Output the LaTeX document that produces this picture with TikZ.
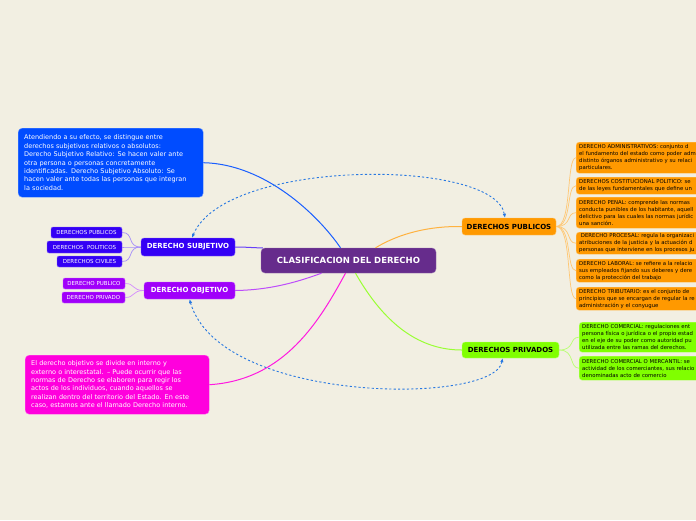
\documentclass[tikz,border=0pt]{standalone}
\usepackage{fontspec}
\setmainfont{DejaVu Sans}
\usetikzlibrary{arrows.meta}
\definecolor{bgc}{RGB}{242,239,226}
\definecolor{cpurple}{RGB}{102,44,140}
\definecolor{cblue}{RGB}{0,76,255}
\definecolor{csubj}{RGB}{52,0,245}
\definecolor{cobj}{RGB}{160,0,250}
\definecolor{cpink}{RGB}{255,0,221}
\definecolor{corange}{RGB}{255,153,0}
\definecolor{cgreen}{RGB}{128,255,0}
\definecolor{cdash}{RGB}{40,120,225}
\tikzset{
  hub/.style={fill=cpurple, draw=cpurple!70!white, rounded corners=4pt, minimum width=175pt, minimum height=25pt, inner sep=0pt, text=white, font=\fontsize{8.5}{10}\selectfont\bfseries},
  mainbox/.style={rounded corners=3pt, inner sep=0pt, font=\fontsize{7}{8}\selectfont\bfseries},
  smallbox/.style={rounded corners=2pt, inner sep=0pt, text=white, font=\fontsize{5.5}{6}\selectfont},
  notebox/.style={anchor=north west, rounded corners=4pt, inner xsep=6pt, inner ysep=0pt, align=left, text=white, font=\fontsize{6.5}{8.4}\selectfont},
  leafbox/.style={anchor=north west, rounded corners=3pt, inner xsep=3pt, inner ysep=0pt, align=left, text=black, minimum width=170pt, text width=164pt, font=\fontsize{5.35}{7}\selectfont},
  oleaf/.style={leafbox, fill=corange, draw=corange!60!white},
  gleaf/.style={leafbox, fill=cgreen, draw=cgreen!50!white},
  conn/.style={line width=1pt},
  twig/.style={line width=0.7pt},
  dasharrow/.style={cdash, line width=0.9pt, dash pattern=on 2.2pt off 2.2pt, {Latex[length=4pt,width=3.5pt]}-{Latex[length=4pt,width=3.5pt]}}
}
\begin{document}
\begin{tikzpicture}[x=1pt,y=-1pt]
\fill[bgc] (0,0) rectangle (696,520);
\useasboundingbox (0,0) rectangle (696,520);
\clip (0,0) rectangle (696,520);

% central
\node[hub] (c) at (348.5,260.5) {CLASIFICACION DEL DERECHO};

% left notes
\node[notebox, fill=cblue, draw=cblue!60!white, minimum width=185pt, text width=173pt, minimum height=69pt] (nb) at (18,128)
{Atendiendo a su efecto, se distingue entre\\
derechos subjetivos relativos o absolutos:\\
Derecho Subjetivo Relativo: Se hacen valer ante\\
otra persona o personas concretamente\\
identificadas. Derecho Subjetivo Absoluto: Se\\
hacen valer ante todas las personas que integran\\
la sociedad.};

\node[notebox, fill=cpink, draw=cpink!60!white, minimum width=184pt, text width=172pt, minimum height=59pt] (np) at (25,355)
{El derecho objetivo se divide en interno y\\
externo o interestatal. -- Puede ocurrir que las\\
normas de Derecho se elaboren para regir los\\
actos de los individuos, cuando aquellos se\\
realizan dentro del territorio del Estado. En este\\
caso, estamos ante el llamado Derecho interno.};

% subjetivo / objetivo
\node[mainbox, fill=csubj, draw=csubj!60!white, text=white, minimum width=94pt, minimum height=18pt] (subj) at (188,247) {DERECHO SUBJETIVO};
\node[mainbox, fill=cobj, draw=cobj!60!white, text=white, minimum width=91pt, minimum height=17pt] (obj) at (189.5,290.5) {DERECHO OBJETIVO};

\node[smallbox, fill=csubj, draw=csubj!60!white, minimum width=71pt, minimum height=11pt] (s1) at (86.5,232.5) {DERECHOS PUBLICOS};
\node[smallbox, fill=csubj, draw=csubj!60!white, minimum width=75pt, minimum height=12pt] (s2) at (84.5,247) {DERECHOS\ \ POLITICOS};
\node[smallbox, fill=csubj, draw=csubj!60!white, minimum width=65pt, minimum height=11pt] (s3) at (89.5,261.5) {DERECHOS CIVILES};

\node[smallbox, fill=cobj, draw=cobj!60!white, minimum width=62pt, minimum height=11pt] (o1) at (94,283.5) {DERECHO PUBLICO};
\node[smallbox, fill=cobj, draw=cobj!60!white, minimum width=63pt, minimum height=11pt] (o2) at (93.5,297.5) {DERECHO PRIVADO};

% right main
\node[mainbox, fill=corange, draw=corange!60!white, text=black, minimum width=94pt, minimum height=17pt] (dp) at (509,226.5) {DERECHOS PUBLICOS};
\node[mainbox, fill=cgreen, draw=cgreen!50!white, text=black, minimum width=97pt, minimum height=16pt] (dv) at (510.5,350) {DERECHOS PRIVADOS};

% orange leaves
\node[oleaf, minimum height=31pt] (p1) at (576,142)
{DERECHO ADMINISTRATIVOS: conjunto d\\
el fundamento del estado como poder adm\\
distinto órganos administrativo y su relaci\\
particulares.};
\node[oleaf, minimum height=17pt] (p2) at (576,177)
{DERECHOS COSTITUCIONAL POLITICO: se\\
de las leyes fundamentales que define un};
\node[oleaf, minimum height=31pt] (p3) at (576,197)
{DERECHO PENAL: comprende las normas\\
conducta punibles de los habitante, aquell\\
delictivo para las cuales las normas jurídic\\
una sanción.};
\node[oleaf, minimum height=22pt] (p4) at (576,232)
{\ DERECHO PROCESAL: regula la organizaci\\
atribuciones de la justicia y la actuación d\\
personas que interviene en los procesos ju};
\node[oleaf, minimum height=23pt] (p5) at (576,259)
{DERECHO LABORAL: se refiere a la relacio\\
sus empleados fijando sus deberes y dere\\
como la protección del trabajo};
\node[oleaf, minimum height=23pt] (p6) at (576,287)
{DERECHO TRIBUTARIO: es el conjunto de\\
principios que se encargan de regular la re\\
administración y el conyugue};

% green leaves
\node[gleaf, minimum height=30pt] (g1) at (579,322)
{DERECHO COMERCIAL: regulaciones ent\\
persona física o jurídica o el propio estad\\
en el eje de su poder como autoridad pu\\
utilizada entre las ramas del derechos.};
\node[gleaf, minimum height=24pt] (g2) at (579,356)
{DERECHO COMERCIAL O MERCANTIL: se\\
actividad de los comerciantes, sus relacio\\
denominadas acto de comercio};

% main connectors
\draw[conn, color=cblue!90!white] (nb.east) .. controls (265,164) and (318,215) .. ([xshift=-8pt]c.north);
\draw[conn, color=csubj!75!white] (subj.east) .. controls (248,247) and (255,248) .. ([xshift=2pt]c.north west);
\draw[conn, color=cobj!70!white] (obj.east) .. controls (272,290) and (300,281) .. ([xshift=-27pt]c.south);
\draw[conn, color=cpink!90!white] (np.east) .. controls (285,380) and (320,320) .. ([xshift=-3pt]c.south);
\draw[conn, color=corange!75!white] ([xshift=27pt]c.north) .. controls (400,233) and (430,226) .. (dp.west);
\draw[conn, color=cgreen!80!white] ([xshift=7pt]c.south) .. controls (385,325) and (420,350) .. (dv.west);

% left twigs
\foreach \t in {s1,s2,s3}
  \draw[twig, color=csubj!45!white] (subj.west) .. controls +(-14,0) and +(12,0) .. (\t.east);
\foreach \t in {o1,o2}
  \draw[twig, color=cobj!45!white] (obj.west) .. controls +(-12,0) and +(10,0) .. (\t.east);

% right twigs
\foreach \t in {p1,p2,p3,p4,p5,p6}
  \draw[twig, color=corange!55!white] (dp.east) .. controls +(16,0) and +(-10,0) .. (\t.west);
\foreach \t in {g1,g2}
  \draw[twig, color=cgreen!55!white] (dv.east) .. controls +(16,0) and +(-10,0) .. (\t.west);

% dashed relations
\draw[dasharrow] ([xshift=4pt]subj.north) .. controls (225,158) and (495,158) .. ([xshift=-4pt]dp.north);
\draw[dasharrow] (obj.south) .. controls (220,405) and (495,405) .. ([xshift=-8pt]dv.south);
\end{tikzpicture}
\end{document}
